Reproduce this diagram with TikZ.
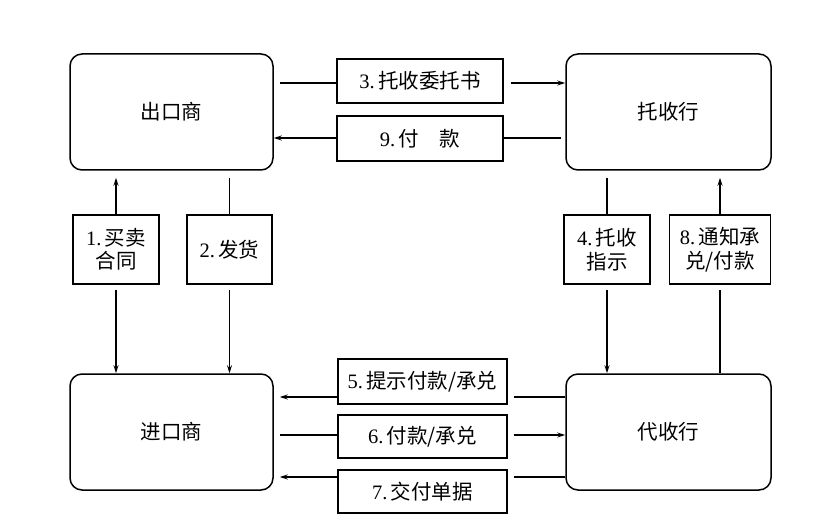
\documentclass[tikz,border=0pt]{standalone}
\usepackage{fontspec}
\setmainfont{Liberation Serif}
\newfontfamily\cjk{Noto Sans CJK SC}
\usetikzlibrary{arrows.meta}
\newcommand\zh[1]{{\cjk #1}}
\begin{document}
\begin{tikzpicture}[x=1pt,y=-1pt,
  party/.style={draw,line width=1.5pt,rounded corners=12pt,inner sep=0pt,
    font=\fontsize{20.5}{24}\selectfont},
  lbl/.style={draw,line width=1.4pt,inner sep=0pt,align=center,
    font=\fontsize{20.5}{23.5}\selectfont},
  conn/.style={line width=1.1pt},
  arr/.style={line width=1.1pt,-{Stealth[length=8pt,width=5pt]}}]
\useasboundingbox (0,0) rectangle (839,532);
% parties
\node[party,minimum width=203pt,minimum height=116pt] (exp) at (171.5,112) {\zh{出口商}};
\node[party,minimum width=205pt,minimum height=116pt] (col) at (668.5,112) {\zh{托收行}};
\node[party,minimum width=203pt,minimum height=116pt] (imp) at (171.5,432) {\zh{进口商}};
\node[party,minimum width=205pt,minimum height=116pt] (rem) at (668.5,432) {\zh{代收行}};
% labels
\node[lbl,minimum width=166pt,minimum height=44pt] (l3) at (420,81) {3.\,\zh{托收委托书}};
\node[lbl,minimum width=166pt,minimum height=45pt] (l9) at (420,138.5) {9.\,\zh{付　款}};
\node[lbl,minimum width=86pt,minimum height=69pt] (l1) at (116,249.5) {1.\,\zh{买卖}\\\zh{合同}};
\node[lbl,minimum width=85pt,minimum height=69pt] (l2) at (229.5,249.5) {2.\,\zh{发货}};
\node[lbl,minimum width=86pt,minimum height=69pt] (l4) at (607,249.5) {4.\,\zh{托收}\\\zh{指示}};
\node[lbl,minimum width=101pt,minimum height=69pt] (l8) at (720,249.5) {8.\,\zh{通知承}\\\zh{兑/付款}};
\node[lbl,minimum width=169pt,minimum height=45pt] (l5) at (422.5,381.5) {5.\,\zh{提示付款/承兑}};
\node[lbl,minimum width=169pt,minimum height=43pt] (l6) at (422.5,436.5) {6.\,\zh{付款/承兑}};
\node[lbl,minimum width=169pt,minimum height=43pt] (l7) at (422.5,491.5) {7.\,\zh{交付单据}};
% top horizontal
\draw[conn] ([xshift=6]exp.east |- 0,83) -- (l3.west |- 0,83);
\draw[arr] ([xshift=7]l3.east |- 0,83) -- (col.west |- 0,83);
\draw[conn] ([xshift=-4]col.west |- 0,138) -- (l9.east |- 0,138);
\draw[arr] (l9.west |- 0,138) -- (exp.east |- 0,138);
% left verticals
\draw[arr] (l1.north) -- ([yshift=-7]exp.south -| l1.north);
\draw[arr] ([yshift=-5]l1.south) -- (imp.north -| l1.south);
\draw[conn] ([yshift=-7]exp.south -| l2.north) -- (l2.north);
\draw[arr] ([yshift=-5]l2.south) -- (imp.north -| l2.south);
% right verticals
\draw[conn] ([yshift=-7]col.south -| l4.north) -- (l4.north);
\draw[arr] ([yshift=-5]l4.south) -- (rem.north -| l4.south);
\draw[conn] (rem.north -| l8.south) -- ([yshift=-5]l8.south);
\draw[arr] (l8.north) -- ([yshift=-7]col.south -| l8.north);
% bottom horizontal
\draw[conn] (rem.west |- 0,397) -- ([xshift=6]l5.east |- 0,397);
\draw[arr] (l5.west |- 0,397) -- ([xshift=6]imp.east |- 0,397);
\draw[conn] ([xshift=6]imp.east |- 0,435) -- (l6.west |- 0,435);
\draw[arr] ([xshift=6]l6.east |- 0,435) -- (rem.west |- 0,435);
\draw[conn] (rem.west |- 0,477) -- ([xshift=6]l7.east |- 0,477);
\draw[arr] (l7.west |- 0,477) -- ([xshift=6]imp.east |- 0,477);
\end{tikzpicture}
\end{document}
